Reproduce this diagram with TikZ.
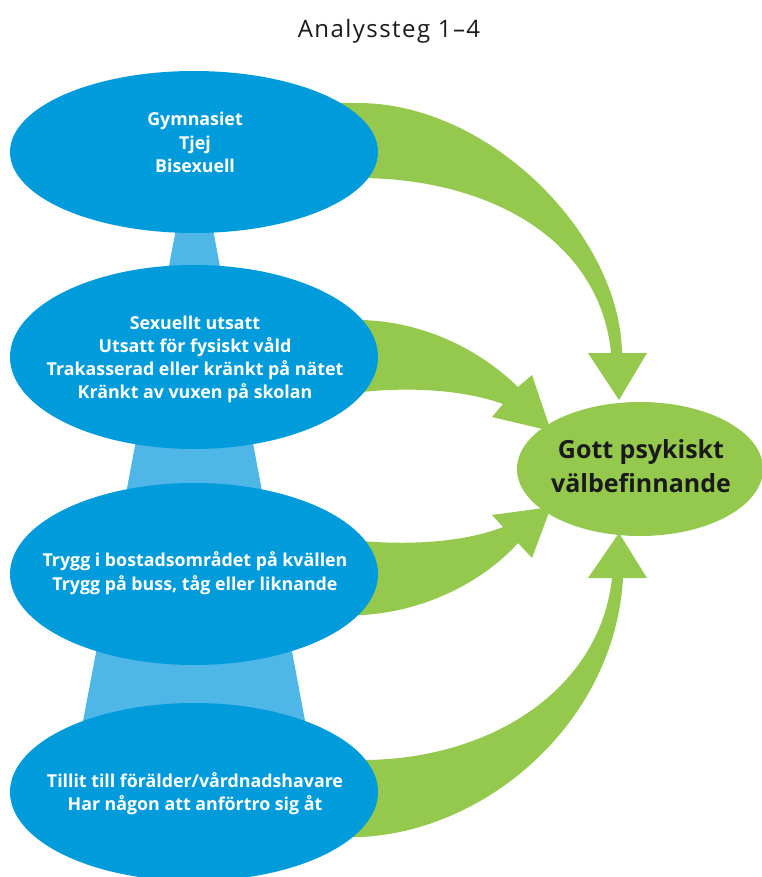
\documentclass[tikz,border=0pt]{standalone}
\usepackage{fontspec}
\setmainfont{Open Sans}
\usetikzlibrary{shapes.geometric}
\definecolor{blueA}{RGB}{0,155,219}
\definecolor{blueL}{RGB}{78,183,231}
\definecolor{greenA}{RGB}{149,201,78}
\definecolor{darktext}{RGB}{26,26,26}
\begin{document}
\begin{tikzpicture}[x=1pt,y=-1pt,
  blob/.style={ellipse, fill=blueA, inner sep=0pt, minimum width=368pt},
  goal/.style={ellipse, fill=greenA, inner sep=0pt, minimum width=246pt, minimum height=134pt},
  btext/.style={text=white, font=\bfseries\fontsize{17.8}{21}\selectfont, anchor=base, inner sep=0pt},
  gtext/.style={text=darktext, font=\bfseries\fontsize{25}{30}\selectfont, anchor=base, inner sep=0pt},
  ttext/.style={text=darktext, font=\fontsize{24}{28}\selectfont\addfontfeature{LetterSpace=6}, anchor=base, inner sep=0pt},
  band/.style={fill=greenA}]
\useasboundingbox (0,0) rectangle (761,877);
% light blue cone behind the ellipses
\fill[blueL] (189,160) -- (200,160) -- (318,790) -- (70,790) -- cycle;
% green arrows
\fill[band] (330,103) -- (358,103) .. controls (490,103) and (620,235) .. (622,353)
  -- (647,353) -- (619,400) -- (588,353) -- (611,353)
  .. controls (600,240) and (490,178) .. (358,178) -- (330,178) -- cycle;
\fill[band] (330,320) -- (362,320) .. controls (425,322) and (480,350) .. (518,387)
  -- (532,375) -- (551,431) -- (492,417) -- (503,404)
  .. controls (470,392) and (420,386) .. (362,392) -- (330,392) -- cycle;
\fill[band] (330,541) -- (362,541) .. controls (420,546) and (470,540) .. (503,527)
  -- (492,515) -- (551,507) -- (532,558) -- (518,543)
  .. controls (480,585) and (420,612) .. (362,615) -- (330,615) -- cycle;
\fill[band] (330,760) -- (362,760) .. controls (490,760) and (600,690) .. (612,578)
  -- (588,578) -- (619,533) -- (647,578) -- (623,578)
  .. controls (615,720) and (490,830) .. (362,837) -- (330,837) -- cycle;
% blue ellipses
\node[blob, minimum height=162pt] (e1) at (194,152) {};
\node[blob, minimum height=184pt] (e2) at (194,357) {};
\node[blob, minimum height=182pt] (e3) at (194,574) {};
\node[blob, minimum height=178pt] (e4) at (194,792) {};
% goal ellipse
\node[goal] (g) at (640,469) {};
% texts
\node[ttext] (title) at (389,38) {Analyssteg 1–4};
\node[btext] (t1a) at (195,126) {Gymnasiet};
\node[btext] (t1b) at (195,150) {Tjej};
\node[btext] (t1c) at (195,173) {Bisexuell};
\node[btext] (t2a) at (195,329) {Sexuellt utsatt};
\node[btext] (t2b) at (195,352) {Utsatt för fysiskt våld};
\node[btext] (t2c) at (195,375) {Trakasserad eller kränkt på nätet};
\node[btext] (t2d) at (195,398) {Kränkt av vuxen på skolan};
\node[btext] (t3a) at (195,566) {Trygg i bostadsområdet på kvällen};
\node[btext] (t3b) at (195,590) {Trygg på buss, tåg eller liknande};
\node[btext] (t4a) at (195,787) {Tillit till förälder/vårdnadshavare};
\node[btext] (t4b) at (195,810) {Har någon att anförtro sig åt};
\node[gtext] (ga) at (641,458) {Gott psykiskt};
\node[gtext] (gb) at (641,492) {välbefinnande};
\end{tikzpicture}
\end{document}
